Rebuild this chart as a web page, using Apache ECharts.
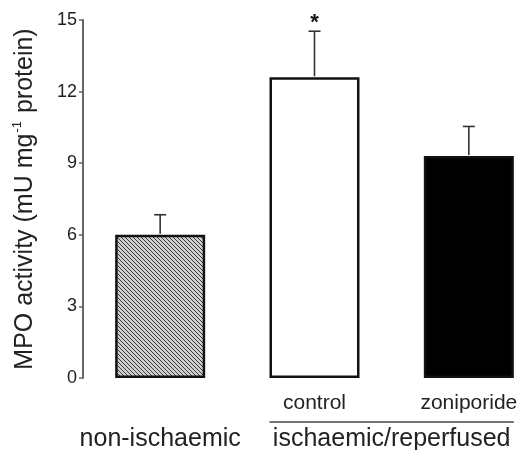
<!DOCTYPE html>
<html>
<head>
<meta charset="utf-8">
<script src="https://cdn.jsdelivr.net/npm/echarts@6/dist/echarts.min.js"></script>
<style>
    html, body { margin: 0; padding: 0; background: #fff; }
    #chart { width: 520px; height: 450px; }
</style>
</head>
<body>
<div id="chart"></div>
<script type="text/javascript">
    // values
    var conditions = ['non-ischaemic', 'control', 'zoniporide'];
    var means = [6.0, 12.6, 9.3];
    var sems = [0.84, 1.93, 1.24];
    var marks = ['', '*', ''];
    var groups = [
        { name: 'non-ischaemic', from: 0, to: 0, rule: false },
        { name: 'ischaemic/reperfused', from: 1, to: 2, rule: true }
    ];
    var yTicks = [0, 3, 6, 9, 12, 15];

    var font = '"Liberation Sans", Arial, sans-serif';
    var ink = '#222';

    // hatched fill for the first bar
    function hatch() {
        var c = document.createElement('canvas');
        c.width = 4;
        c.height = 4;
        var ctx = c.getContext('2d');
        ctx.fillStyle = '#cfcfcf';
        ctx.fillRect(0, 0, 4, 4);
        ctx.strokeStyle = '#3a3a3a';
        ctx.lineWidth = 1;
        ctx.beginPath();
        ctx.moveTo(-1, -1); ctx.lineTo(5, 5);
        ctx.moveTo(-1, 3); ctx.lineTo(1, 5);
        ctx.moveTo(3, -1); ctx.lineTo(5, 1);
        ctx.stroke();
        return c;
    }

    var fills = [
        { image: hatch(), repeat: 'repeat' },
        '#ffffff',
        '#000000'
    ];

    var barData = means.map(function (v, i) {
        return { value: v, itemStyle: { color: fills[i] } };
    });
    var errData = means.map(function (v, i) {
        return [i, v, v + sems[i]];
    });

    var chart = echarts.init(document.getElementById('chart'));

    option = {
        animation: false,
        // the last category slot runs past the right edge, as in the figure
        grid: { left: 83, top: 20, bottom: 72, width: 463, outerBoundsMode: 'none', containLabel: false },
        xAxis: {
            type: 'category',
            data: conditions,
            axisLine: { show: false },
            axisTick: { show: false },
            axisLabel: {
                margin: 15,
                fontFamily: font,
                fontSize: 21,
                color: ink,
                formatter: function (v, i) { return i === 0 ? '' : v; }
            }
        },
        yAxis: {
            type: 'value',
            min: yTicks[0],
            max: yTicks[yTicks.length - 1],
            interval: 3,
            name: '{a|MPO activity (mU mg}{s|-1}{a| protein)}',
            nameLocation: 'middle',
            nameRotate: 90,
            nameGap: 44,
            nameTextStyle: {
                rich: {
                    a: { fontFamily: font, fontSize: 25, color: ink, lineHeight: 28 },
                    s: { fontFamily: font, fontSize: 13, color: ink, verticalAlign: 'top', lineHeight: 28, padding: [0, 1, 10, 1] }
                }
            },
            axisLine: { show: true, lineStyle: { color: '#666', width: 2 } },
            axisTick: { show: true, length: 4, lineStyle: { color: '#666', width: 1.5 } },
            splitLine: { show: false },
            axisLabel: { margin: 6, fontFamily: font, fontSize: 18, color: ink }
        },
        series: [
            {
                type: 'bar',
                barWidth: 90,
                data: barData,
                itemStyle: { borderColor: '#111', borderWidth: 2.5 },
                z: 2
            },
            {
                type: 'custom',
                data: errData,
                z: 3,
                renderItem: function (params, api) {
                    var base = api.coord([api.value(0), api.value(1)]);
                    var top = api.coord([api.value(0), api.value(2)]);
                    var style = { stroke: '#333', lineWidth: 1.6 };
                    var kids = [
                        { type: 'line', shape: { x1: base[0], y1: base[1] - 1, x2: top[0], y2: top[1] }, style: style },
                        { type: 'line', shape: { x1: top[0] - 6, y1: top[1], x2: top[0] + 6, y2: top[1] }, style: style }
                    ];
                    var m = marks[params.dataIndex];
                    if (m) {
                        kids.push({
                            type: 'text',
                            style: {
                                text: m, x: top[0], y: top[1] - 19,
                                align: 'center', verticalAlign: 'top',
                                font: 'bold 22px ' + font, fill: '#111'
                            }
                        });
                    }
                    return { type: 'group', children: kids };
                }
            }
        ]
    };
    chart.setOption(option);

    // group labels under the category axis
    var half = 45;
    var graphics = [];
    groups.forEach(function (g) {
        var a = chart.convertToPixel({ xAxisIndex: 0 }, g.from);
        var b = chart.convertToPixel({ xAxisIndex: 0 }, g.to);
        var zero = chart.convertToPixel({ yAxisIndex: 0 }, 0);
        if (g.rule) {
            graphics.push({
                type: 'line',
                shape: { x1: a - half, y1: zero + 44, x2: b + half, y2: zero + 44 },
                style: { stroke: '#444', lineWidth: 1.5 }
            });
        }
        graphics.push({
            type: 'text',
            x: (a + b) / 2,
            y: zero + 61,
            style: {
                text: g.name, align: 'center', verticalAlign: 'middle',
                font: '25px ' + font, fill: ink
            }
        });
    });
    chart.setOption({ graphic: graphics });
</script>
</body>
</html>
